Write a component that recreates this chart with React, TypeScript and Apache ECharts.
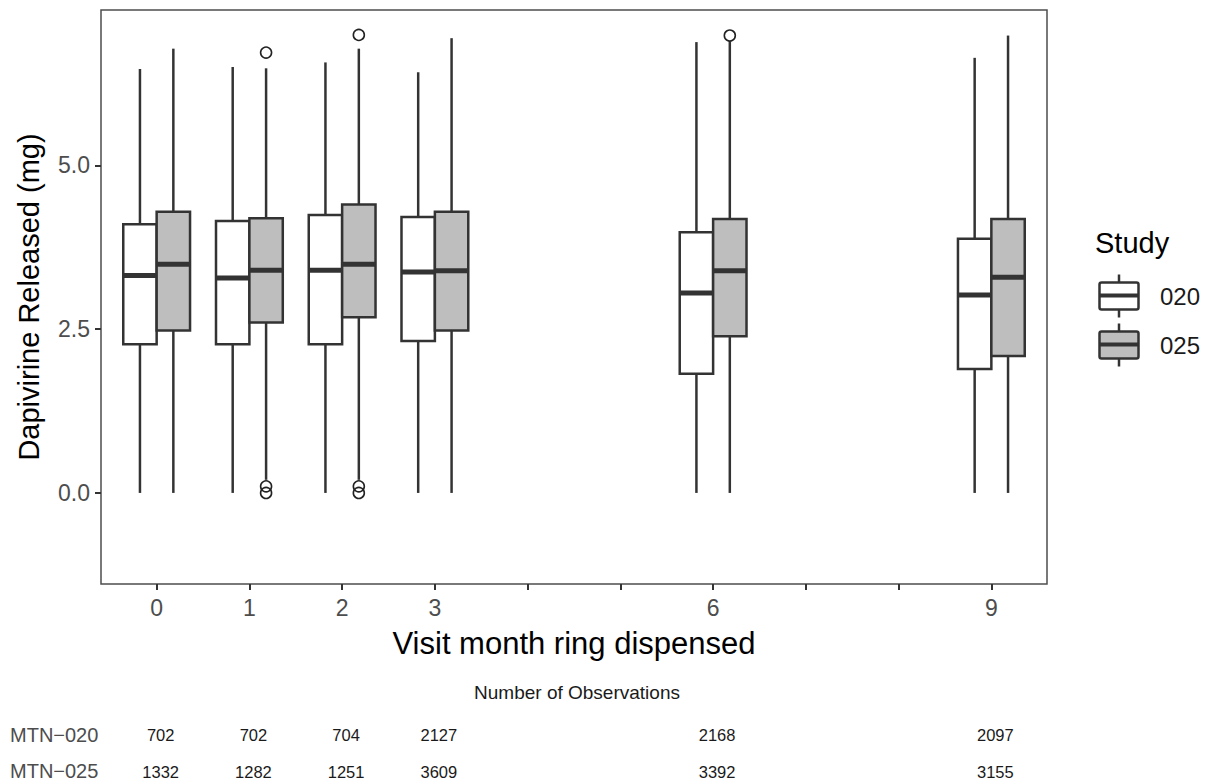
import React, { useEffect, useRef } from "react";
import * as echarts from "echarts";

// ---- data ----
const months = [0, 1, 2, 3, 6, 9];
const tickMonths = [0, 1, 2, 3, 4, 5, 6, 7, 8, 9];
const labelMonths = [0, 1, 2, 3, 6, 9];
const yTicks = [0, 2.5, 5];

// [low whisker, Q1, median, Q3, high whisker]
const study020 = [
  [0, 2.27, 3.32, 4.1, 6.47],
  [0, 2.27, 3.28, 4.15, 6.5],
  [0, 2.27, 3.4, 4.24, 6.57],
  [0, 2.32, 3.37, 4.21, 6.42],
  [0, 1.82, 3.05, 3.98, 6.88],
  [0, 1.89, 3.02, 3.88, 6.64],
];
const study025 = [
  [0, 2.48, 3.49, 4.29, 6.78],
  [0.2, 2.6, 3.4, 4.19, 6.48],
  [0.2, 2.68, 3.49, 4.4, 6.78],
  [0, 2.48, 3.39, 4.29, 6.94],
  [0, 2.39, 3.39, 4.18, 6.89],
  [0, 2.09, 3.29, 4.18, 6.98],
];
// [month, value]
const outliers025 = [
  [1, 6.72], [1, 0.1], [1, 0],
  [2, 6.99], [2, 0.1], [2, 0],
  [6, 6.98],
];
const obs020 = [702, 702, 704, 2127, 2168, 2097];
const obs025 = [1332, 1282, 1251, 3609, 3392, 3155];
const rowLabels = ["MTN\u2212020", "MTN\u2212025"];

const FONT = "Liberation Sans, Arial, sans-serif";
const DARK = "#333333";
const GRAY_FILL = "#bebebe";
const HALF = 0.18;

function boxRenderer(sign: number, fill: string) {
  return (params: any, api: any) => {
    const x = api.value(0);
    const low = api.value(1), q1 = api.value(2), med = api.value(3), q3 = api.value(4), high = api.value(5);
    const cx = x + sign * HALF;
    const tl = api.coord([cx - HALF, q3]);
    const br = api.coord([cx + HALF, q1]);
    const pH = api.coord([cx, high]);
    const pL = api.coord([cx, low]);
    const mL = api.coord([cx - HALF, med]);
    const mR = api.coord([cx + HALF, med]);
    const ls = { stroke: DARK, lineWidth: 2.5 };
    return {
      type: "group",
      children: [
        { type: "line", shape: { x1: pH[0], y1: pH[1], x2: pH[0], y2: tl[1] }, style: ls },
        { type: "line", shape: { x1: pL[0], y1: br[1], x2: pL[0], y2: pL[1] }, style: ls },
        {
          type: "rect",
          shape: { x: tl[0], y: tl[1], width: br[0] - tl[0], height: br[1] - tl[1] },
          style: { fill, stroke: DARK, lineWidth: 2.5 },
        },
        { type: "line", shape: { x1: mL[0], y1: mL[1], x2: mR[0], y2: mR[1] }, style: { stroke: DARK, lineWidth: 5 } },
      ],
    };
  };
}

function outlierRenderer(sign: number) {
  return (params: any, api: any) => {
    const p = api.coord([api.value(0) + sign * HALF, api.value(1)]);
    return {
      type: "circle",
      shape: { cx: p[0], cy: p[1], r: 5.5 },
      style: { fill: "none", stroke: "#222", lineWidth: 1.6 },
    };
  };
}

function obsRenderer(params: any, api: any) {
  const p = api.coord([api.value(0), 0]);
  const x = p[0] + 4;
  return {
    type: "group",
    children: [
      {
        type: "text",
        style: { x, y: 735, text: String(api.value(1)), fill: "#1a1a1a", font: `16.5px ${FONT}`, align: "center", verticalAlign: "middle" },
      },
      {
        type: "text",
        style: { x, y: 772, text: String(api.value(2)), fill: "#1a1a1a", font: `16.5px ${FONT}`, align: "center", verticalAlign: "middle" },
      },
    ],
  };
}

function legendItem(y: number, fill: string, label: string) {
  return {
    type: "group",
    children: [
      { type: "line", shape: { x1: 1119, y1: y - 21, x2: 1119, y2: y + 22 }, style: { stroke: DARK, lineWidth: 2.5 } },
      { type: "rect", shape: { x: 1099.5, y: y - 13, width: 39, height: 27, r: 2 }, style: { fill, stroke: DARK, lineWidth: 2.5 } },
      { type: "line", shape: { x1: 1099.5, y1: y, x2: 1138.5, y2: y }, style: { stroke: DARK, lineWidth: 4 } },
      { type: "text", style: { x: 1160, y: y + 1, text: label, fill: "#1a1a1a", font: `24px ${FONT}`, verticalAlign: "middle" } },
    ],
  };
}

export default function App() {
  const ref = useRef<HTMLDivElement>(null);
  useEffect(() => {
    if (!ref.current) return;
    const chart = echarts.init(ref.current, null, { renderer: "svg" });
    const d020 = months.map((m, i) => [m, ...study020[i]]);
    const d025 = months.map((m, i) => [m, ...study025[i]]);
    const dObs = months.map((m, i) => [m, obs020[i], obs025[i]]);
    chart.setOption({
      animation: false,
      backgroundColor: "#ffffff",
      textStyle: { fontFamily: FONT },
      grid: {
        left: 101,
        right: 169,
        top: 10,
        bottom: 199,
        show: true,
        borderColor: "#4d4d4d",
        borderWidth: 1.5,
        backgroundColor: "transparent",
      },
      xAxis: {
        type: "value",
        min: -0.6,
        max: 9.6,
        name: "Visit month ring dispensed",
        nameLocation: "middle",
        nameGap: 44,
        nameTextStyle: { fontSize: 31, color: "#000", fontFamily: FONT },
        axisLine: { show: false, onZero: false },
        splitLine: { show: false },
        axisTick: { show: true, length: 6, customValues: tickMonths, lineStyle: { color: DARK, width: 2 } },
        axisLabel: {
          customValues: labelMonths,
          fontSize: 23,
          color: "#4d4d4d",
          margin: 12,
          fontFamily: FONT,
        },
      },
      yAxis: {
        type: "value",
        min: -1.39,
        max: 7.37,
        name: "Dapivirine Released (mg)",
        nameLocation: "middle",
        nameRotate: 90,
        nameGap: 58,
        nameTextStyle: { fontSize: 29, color: "#000", fontFamily: FONT },
        axisLine: { show: false, onZero: false },
        splitLine: { show: false },
        axisTick: { show: true, length: 6, customValues: yTicks, lineStyle: { color: DARK, width: 2 } },
        axisLabel: {
          customValues: yTicks,
          fontSize: 23,
          color: "#4d4d4d",
          margin: 11,
          fontFamily: FONT,
          formatter: (v: number) => v.toFixed(1),
        },
      },
      series: [
        { type: "custom", name: "020", data: d020, renderItem: boxRenderer(-1, "#ffffff"), clip: false, encode: { x: 0, y: [1, 2, 3, 4, 5] } },
        { type: "custom", name: "025", data: d025, renderItem: boxRenderer(1, GRAY_FILL), clip: false, encode: { x: 0, y: [1, 2, 3, 4, 5] } },
        { type: "custom", name: "outliers 025", data: outliers025, renderItem: outlierRenderer(1), clip: false, encode: { x: 0, y: 1 } },
        { type: "custom", name: "observations", data: dObs, renderItem: obsRenderer, clip: false, encode: { x: 0 } },
      ],
      graphic: [
        { type: "text", style: { x: 1095, y: 243, text: "Study", fill: "#000", font: `29px ${FONT}`, verticalAlign: "middle" } },
        legendItem(295.5, "#ffffff", "020"),
        legendItem(344.5, GRAY_FILL, "025"),
        {
          type: "text",
          style: { x: 577, y: 692, text: "Number of Observations", fill: "#1a1a1a", font: `19px ${FONT}`, align: "center", verticalAlign: "middle" },
        },
        { type: "text", style: { x: 10, y: 735, text: rowLabels[0], fill: "#4d4d4d", font: `20px ${FONT}`, verticalAlign: "middle" } },
        { type: "text", style: { x: 10, y: 771, text: rowLabels[1], fill: "#4d4d4d", font: `20px ${FONT}`, verticalAlign: "middle" } },
      ],
    });
    return () => chart.dispose();
  }, []);
  return <div ref={ref} style={{ position: "fixed", left: 0, top: 0, width: 1216, height: 783 }} />;
}
